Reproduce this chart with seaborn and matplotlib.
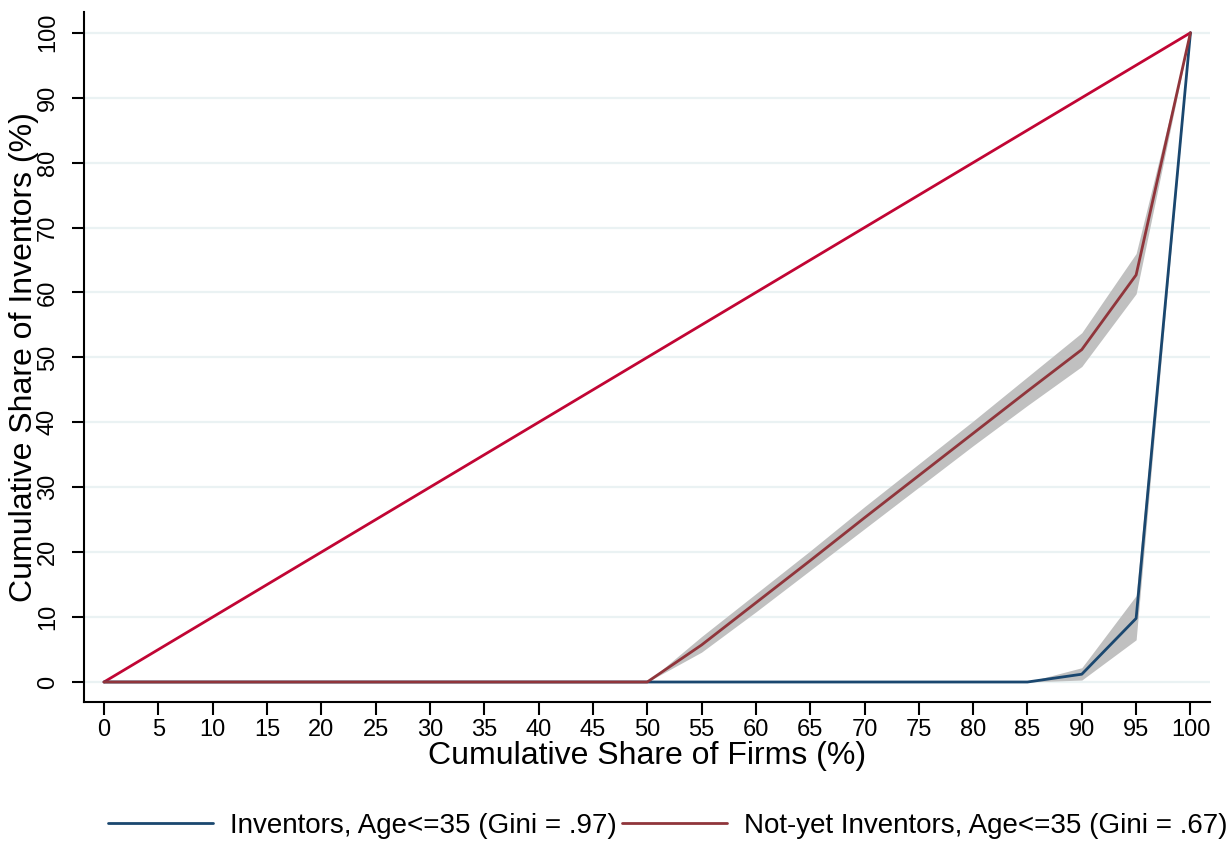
import matplotlib
matplotlib.use("Agg")
import matplotlib.pyplot as plt
import seaborn as sns
import numpy as np
import pandas as pd

sns.set_style("white")
plt.rcParams['font.family'] = ['Liberation Sans', 'DejaVu Sans']
plt.rcParams['text.color'] = 'black'
plt.rcParams['axes.labelcolor'] = 'black'
plt.rcParams['xtick.color'] = 'black'
plt.rcParams['ytick.color'] = 'black'

# Data
firm_share = [0, 5, 10, 15, 20, 25, 30, 35, 40, 45, 50, 55, 60, 65, 70, 75, 80, 85, 90, 95, 100]
inventors = [0, 0, 0, 0, 0, 0, 0, 0, 0, 0, 0, 0, 0, 0, 0, 0, 0, 0, 1.2, 9.8, 100]
inventors_lo = [0, 0, 0, 0, 0, 0, 0, 0, 0, 0, 0, 0, 0, 0, 0, 0, 0, 0, 0.3, 6.5, 100]
inventors_hi = [0, 0, 0, 0, 0, 0, 0, 0, 0, 0, 0, 0, 0, 0, 0, 0, 0, 0, 2.2, 13.3, 100]
notyet = [0, 0, 0, 0, 0, 0, 0, 0, 0, 0, 0, 5.7, 12.2, 18.7, 25.3, 31.8, 38.3, 44.8, 51.2, 62.7, 100]
notyet_lo = [0, 0, 0, 0, 0, 0, 0, 0, 0, 0, 0, 4.6, 10.8, 17.2, 23.6, 30.0, 36.4, 42.6, 48.6, 59.8, 100]
notyet_hi = [0, 0, 0, 0, 0, 0, 0, 0, 0, 0, 0, 7.0, 13.6, 20.2, 27.0, 33.6, 40.2, 47.0, 53.8, 66.0, 100]
equality = firm_share

labels = ["Inventors, Age<=35 (Gini = .97)", "Not-yet Inventors, Age<=35 (Gini = .67)"]
c_inv = "#1a476f"
c_ny = "#90353b"
c_eq = "#c10534"
c_band = "#c0c0c0"
c_grid = "#eaf2f3"

fig = plt.figure(figsize=(12.31, 8.43), dpi=100)
ax = fig.add_axes([84/1231, 1-702/843, (1210-84)/1231, (702-12)/843])

ax.set_xlim(-1.84, 101.8)
ax.set_ylim(-3.08, 103.2)
ax.set_yticks(range(0, 101, 10))
ax.set_xticks(range(0, 101, 5))
for yv in range(0, 101, 10):
    ax.axhline(yv, color=c_grid, lw=1.6, zorder=0)

ax.fill_between(firm_share, inventors_lo, inventors_hi, color=c_band, lw=0, zorder=1)
ax.fill_between(firm_share, notyet_lo, notyet_hi, color=c_band, lw=0, zorder=1)

sns.lineplot(x=firm_share, y=equality, color=c_eq, lw=2, ax=ax, zorder=2)
sns.lineplot(x=firm_share, y=inventors, color=c_inv, lw=2, ax=ax, zorder=3, label=labels[0])
sns.lineplot(x=firm_share, y=notyet, color=c_ny, lw=2, ax=ax, zorder=4, label=labels[1])

for s in ["top", "right"]:
    ax.spines[s].set_visible(False)
for s in ["left", "bottom"]:
    ax.spines[s].set_color("black")
    ax.spines[s].set_linewidth(1.5)

ax.tick_params(axis="both", which="major", direction="out", length=9, width=1.5,
               color="black", labelsize=17, bottom=True, left=True)
ax.tick_params(axis="x", pad=3)
ax.tick_params(axis="y", pad=9)
ax.set_yticklabels([str(v) for v in range(0, 101, 10)], rotation=90, va="center")
ax.set_xlabel("Cumulative Share of Firms (%)", fontsize=23, labelpad=0)
ax.set_ylabel("Cumulative Share of Inventors (%)", fontsize=23)
ax.yaxis.set_label_coords(-0.040, 0.5)

h, l = ax.get_legend_handles_labels()
ax.get_legend().remove()
fig.legend(h, l, loc="center", bbox_to_anchor=(668/1231, 1-826/843), ncol=2, frameon=False,
           fontsize=20, handlelength=3.78, handletextpad=0.61, columnspacing=0.18,
           borderpad=0.2)

fig.savefig("out.png", dpi=100, facecolor="white")
